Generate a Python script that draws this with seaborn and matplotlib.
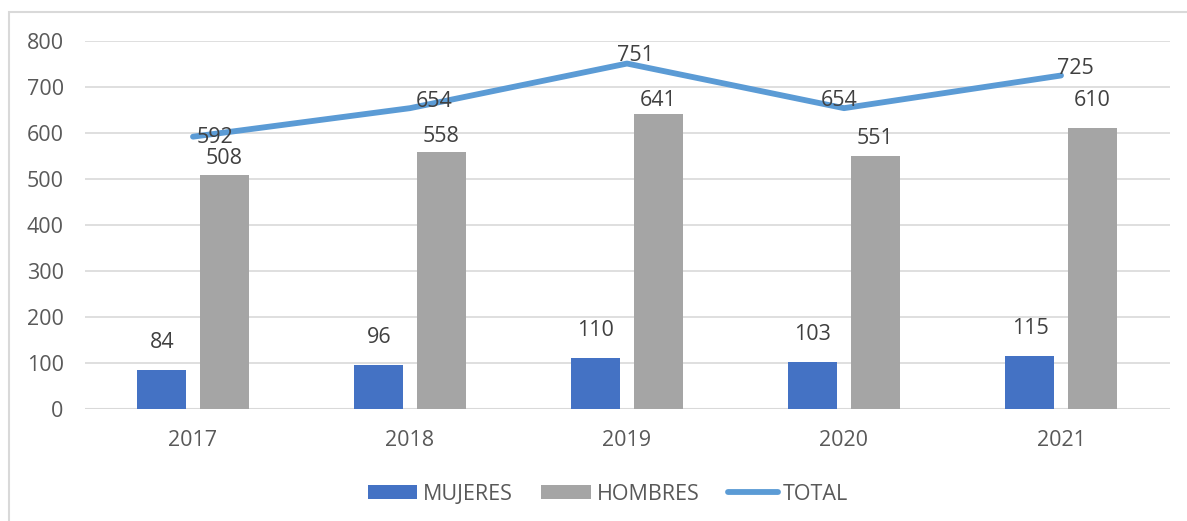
import matplotlib
matplotlib.use("Agg")
import matplotlib.pyplot as plt
from matplotlib.patches import Rectangle
from matplotlib.lines import Line2D
import numpy as np
import pandas as pd
import seaborn as sns

years = ["2017", "2018", "2019", "2020", "2021"]
mujeres = [84, 96, 110, 103, 115]
hombres = [508, 558, 641, 551, 610]
total = [592, 654, 751, 654, 725]

BLUE = "#4472C4"
GRAY = "#A5A5A5"
LINE = "#5B9BD5"
TEXT = "#595959"
GRID = "#D9D9D9"

sns.set_theme(style="white")
plt.rcParams["font.family"] = ["Open Sans", "DejaVu Sans"]
FS = 15.5

df = pd.DataFrame({
    "year": years * 2,
    "value": mujeres + hombres,
    "serie": ["MUJERES"] * len(years) + ["HOMBRES"] * len(years),
})

fig = plt.figure(figsize=(11.87, 5.21), dpi=100)
ax = fig.add_axes([84.5 / 1187, 1 - 409 / 521, 1085 / 1187, 368 / 521])

sns.barplot(data=df, x="year", y="value", hue="serie", order=years,
            hue_order=["MUJERES", "HOMBRES"], palette=[BLUE, GRAY],
            width=0.572, gap=0.21, saturation=1, linewidth=0, legend=False,
            ax=ax, zorder=3)

x_pos = np.arange(len(years))
sns.lineplot(x=x_pos, y=total, color=LINE, linewidth=4.2, ax=ax,
             solid_capstyle="round", zorder=4, legend=False)

ax.set_ylim(0, 800)
ax.set_xlim(-0.5, len(years) - 0.5)
ax.set_yticks(range(0, 801, 100))
ax.yaxis.grid(True, color=GRID, linewidth=1.2, zorder=0)
ax.set_axisbelow(True)
for s in ax.spines.values():
    s.set_visible(False)
ax.axhline(0, color=GRID, linewidth=1.5, zorder=2)
ax.set_xlabel("")
ax.set_ylabel("")
ax.tick_params(axis="both", length=0, labelsize=FS, colors=TEXT)
ax.tick_params(axis="x", pad=15)
ax.tick_params(axis="y", pad=15)

# data labels (offsets in pixels, converted to points)
px = 0.72
for i, v in enumerate(mujeres):
    ax.annotate(str(v), (i - 0.143, v), xytext=(0, 17 * px), textcoords="offset points",
                ha="center", va="bottom", fontsize=FS, color="#404040")
hom_gap = [6, 5, 3, 7, 17]
for i, v in enumerate(hombres):
    ax.annotate(str(v), (i + 0.143, v), xytext=(0, hom_gap[i] * px), textcoords="offset points",
                ha="center", va="bottom", fontsize=FS, color="#404040")
tot_off = [(22, -1), (24, 7), (8, 8), (-5, 8), (14, 7)]
for i, v in enumerate(total):
    dx, dy = tot_off[i]
    ax.annotate(str(v), (i, v), xytext=(dx * px, dy * px), textcoords="offset points",
                ha="center", va="center", fontsize=FS, color="#404040", zorder=5)

handles = [
    Rectangle((0, 0), 1, 1, facecolor=BLUE, edgecolor="none"),
    Rectangle((0, 0), 1, 1, facecolor=GRAY, edgecolor="none"),
    Line2D([0], [0], color=LINE, linewidth=4.2, solid_capstyle="round"),
]
leg = fig.legend(handles, ["MUJERES", "HOMBRES", "TOTAL"], loc="center",
                 bbox_to_anchor=(608 / 1187, 1 - 494 / 521), ncol=3, frameon=False,
                 fontsize=FS, handlelength=2.3, handleheight=0.6, handletextpad=0.25,
                 columnspacing=1.35, borderpad=0)
for t in leg.get_texts():
    t.set_color(TEXT)

# chart area border
fig.patches.append(Rectangle((8.5 / 1187, -0.2), 1.2, 1.2 - 12 / 521, transform=fig.transFigure,
                             fill=False, edgecolor=GRID, linewidth=1.5, zorder=0))

fig.savefig("out.png", dpi=100)
